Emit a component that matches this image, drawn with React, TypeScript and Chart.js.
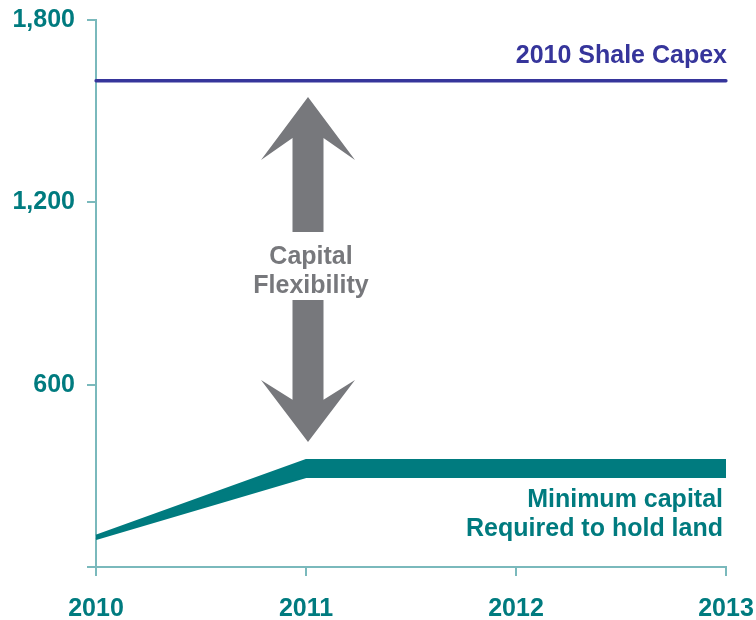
import React, { useEffect, useRef } from 'react';
import { Chart, registerables } from 'chart.js';

Chart.register(...registerables);

const years = ['2010', '2011', '2012', '2013'];
const shaleCapex = [1600, 1600, 1600, 1600];
const minCapitalUpper = [103, 352, 352, 352];
const minCapitalLower = [92, 296, 296, 296];
const yTickValues = [0, 600, 1200, 1800];

const shaleLabel = '2010 Shale Capex';
const minCapitalLabel = ['Minimum capital', 'Required to hold land'];
const flexLabel = ['Capital', 'Flexibility'];

// annotation geometry in data units
const arrowUp = { tip: 1547, barb: 1339, join: 1412, tail: 1102 };
const arrowDown = { tip: 411, barb: 615, join: 550, tail: 879 };
const flexTextValues = [997, 902];
const shaleTextValue = 1658;
const minCapTextValues = [199, 101];

const TEAL = '#007b7f';
const AXIS = '#7ab9bc';
const NAVY = '#36359b';
const GRAY = '#77787c';
const FONT = '"Liberation Sans", Arial, sans-serif';

const annotPlugin = {
  id: 'annot',
  afterDatasetsDraw(chart: any) {
    const { ctx, scales } = chart;
    const x = scales.x;
    const y = scales.y;
    const cx = x.getPixelForValue(1) + 2;
    const shaftHalf = 15.5;
    const barbHalf = 47;
    ctx.save();
    ctx.fillStyle = GRAY;
    const drawArrow = (a: any) => {
      ctx.beginPath();
      ctx.moveTo(cx, y.getPixelForValue(a.tip));
      ctx.lineTo(cx + barbHalf, y.getPixelForValue(a.barb));
      ctx.lineTo(cx + shaftHalf, y.getPixelForValue(a.join));
      ctx.lineTo(cx + shaftHalf, y.getPixelForValue(a.tail));
      ctx.lineTo(cx - shaftHalf, y.getPixelForValue(a.tail));
      ctx.lineTo(cx - shaftHalf, y.getPixelForValue(a.join));
      ctx.lineTo(cx - barbHalf, y.getPixelForValue(a.barb));
      ctx.closePath();
      ctx.fill();
    };
    drawArrow(arrowUp);
    drawArrow(arrowDown);

    ctx.font = `bold 25px ${FONT}`;
    ctx.textBaseline = 'alphabetic';
    ctx.textAlign = 'center';
    ctx.fillStyle = GRAY;
    flexLabel.forEach((t, i) => {
      ctx.fillText(t, cx + 3, y.getPixelForValue(flexTextValues[i]));
    });

    ctx.textAlign = 'right';
    ctx.fillStyle = NAVY;
    ctx.fillText(shaleLabel, x.right + 1, y.getPixelForValue(shaleTextValue));

    ctx.fillStyle = TEAL;
    minCapitalLabel.forEach((t, i) => {
      ctx.fillText(t, x.right - 3, y.getPixelForValue(minCapTextValues[i]));
    });
    ctx.restore();
  },
};

export default function App() {
  const ref = useRef<HTMLCanvasElement | null>(null);

  useEffect(() => {
    if (!ref.current) return;
    const chart = new Chart(ref.current, {
      type: 'line',
      data: {
        labels: years,
        datasets: [
          {
            label: 'Min upper',
            data: minCapitalUpper,
            borderColor: TEAL,
            backgroundColor: TEAL,
            borderWidth: 2,
            pointRadius: 0,
            fill: false,
            tension: 0,
          },
          {
            label: 'Min lower',
            data: minCapitalLower,
            borderColor: TEAL,
            backgroundColor: TEAL,
            borderWidth: 2,
            pointRadius: 0,
            fill: '-1',
            tension: 0,
          },
          {
            label: shaleLabel,
            data: shaleCapex,
            borderColor: NAVY,
            borderWidth: 3.5,
            borderCapStyle: 'round',
            pointRadius: 0,
            fill: false,
          },
        ],
      },
      options: {
        animation: false,
        responsive: false,
        maintainAspectRatio: false,
        layout: { padding: { top: 20, right: 30, left: 0, bottom: 0 } },
        plugins: {
          legend: { display: false },
          tooltip: { enabled: false },
        },
        scales: {
          x: {
            type: 'category',
            offset: false,
            grid: {
              display: true,
              drawOnChartArea: false,
              drawTicks: true,
              tickLength: 9,
              color: AXIS,
              lineWidth: 2,
            },
            border: { display: true, color: AXIS, width: 2 },
            ticks: {
              color: TEAL,
              font: { family: FONT, size: 25, weight: 'bold' },
              padding: 18,
              maxRotation: 0,
            },
            afterFit: (s: any) => {
              s.height = 53;
              s.paddingLeft = 0;
              s.paddingRight = 0;
            },
          },
          y: {
            min: 0,
            max: 1800,
            afterBuildTicks: (s: any) => {
              s.ticks = yTickValues.map((v) => ({ value: v }));
            },
            grid: {
              display: true,
              drawOnChartArea: false,
              drawTicks: true,
              tickLength: 9,
              color: AXIS,
              lineWidth: 2,
            },
            border: { display: true, color: AXIS, width: 2 },
            ticks: {
              color: TEAL,
              font: { family: FONT, size: 25, weight: 'bold' },
              padding: 12,
              callback: (v: any) => (Number(v) === 0 ? '' : Number(v).toLocaleString('en-US')),
            },
            afterFit: (s: any) => {
              s.width = 96;
              s.paddingTop = 0;
              s.paddingBottom = 0;
            },
          },
        },
      },
      plugins: [annotPlugin],
    } as any);
    return () => chart.destroy();
  }, []);

  return (
    <div style={{ position: 'fixed', left: 0, top: 0, width: 756, height: 620, background: '#fff' }}>
      <canvas ref={ref} width={756} height={620} style={{ width: 756, height: 620, display: 'block' }} />
    </div>
  );
}
